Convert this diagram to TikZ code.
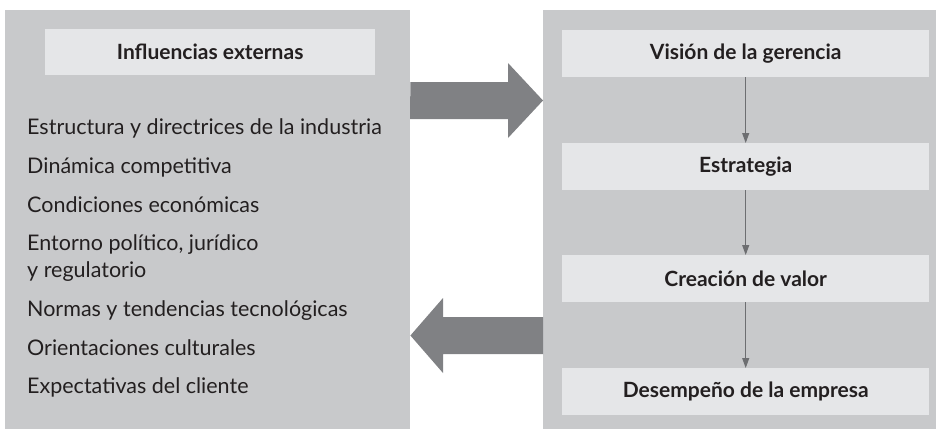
\documentclass[tikz,border=0pt]{standalone}
\usepackage{fontspec}
\setmainfont{Lato}
\usetikzlibrary{arrows.meta}
\definecolor{panelgray}{HTML}{C8C9CB}
\definecolor{boxgray}{HTML}{E5E6E8}
\definecolor{arrowgray}{HTML}{808184}
\definecolor{linegray}{HTML}{6D6E71}
\definecolor{ink}{HTML}{231F20}
\tikzset{
  panel/.style={fill=panelgray, draw=none, anchor=north west, inner sep=0pt},
  stagebox/.style={fill=boxgray, draw=none, anchor=north west, inner sep=0pt,
    minimum width=367pt, minimum height=47pt, text=ink,
    font=\fontsize{21}{24}\selectfont\bfseries},
  item/.style={anchor=base west, inner sep=0pt, text=ink,
    font=\fontsize{21.5}{27}\selectfont},
  flow/.style={draw=linegray, line width=1pt, -{Triangle[length=10pt,width=7pt]}},
  bigarrow/.style={fill=arrowgray, draw=none}
}
\begin{document}
\begin{tikzpicture}[x=1pt,y=-1pt]
\useasboundingbox (0,0) rectangle (936,429);
\node[panel, minimum width=405pt, minimum height=419pt] (L) at (5,10) {};
\node[panel, minimum width=393pt, minimum height=419pt] (R) at (543,10) {};
\node[stagebox, minimum width=330pt, minimum height=46pt] (T) at (45,29) {Influencias externas};
\node[stagebox] (B1) at (562,30) {Visión de la gerencia};
\node[stagebox] (B2) at (562,143) {Estrategia};
\node[stagebox] (B3) at (562,255) {Creación de valor};
\node[stagebox] (B4) at (562,368) {Desempeño de la empresa};
\draw[flow] (B1.south) -- (B2.north);
\draw[flow] (B2.south) -- (B3.north);
\draw[flow] (B3.south) -- (B4.north);
\node[item] (i1) at (27,134) {Estructura y directrices de la industria};
\node[item] (i2) at (27,173) {Dinámica competitiva};
\node[item] (i3) at (27,212) {Condiciones económicas};
\node[item] (i4) at (27,250) {Entorno político, jurídico};
\node[item] (i4b) at (27,277) {y regulatorio};
\node[item] (i5) at (27,316) {Normas y tendencias tecnológicas};
\node[item] (i6) at (27,355) {Orientaciones culturales};
\node[item] (i7) at (27,393) {Expectativas del cliente};
% big arrows
\coordinate (ra) at (L.east |- 0,100.5);
\coordinate (rb) at (R.west |- 0,100.5);
\fill[bigarrow] (ra) ++(0,-18.5) -- (508,82) -- (508,63) -- (rb) -- (508,138) -- (508,119) -- (410,119) -- cycle;
\coordinate (la) at (R.west |- 0,335.5);
\coordinate (lb) at (L.east |- 0,335.5);
\fill[bigarrow] (la) ++(0,-18.5) -- (443,317) -- (443,298) -- (lb) -- (443,373) -- (443,354) -- (543,354) -- cycle;
\end{tikzpicture}
\end{document}
